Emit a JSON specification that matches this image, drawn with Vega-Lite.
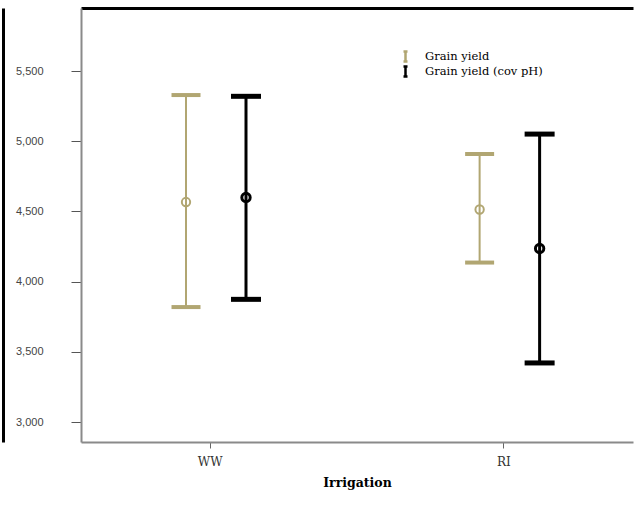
{
  "$schema": "https://vega.github.io/schema/vega-lite/v6.json",
  "autosize": "none",
  "width": 552,
  "height": 434,
  "padding": {"left": 81, "top": 8, "right": 3, "bottom": 69},
  "background": "white",
  "config": {"view": {"stroke": null}},
  "data": {
    "values": [
      {"Irrigation": "WW", "Series": "Grain yield", "mean": 4567, "low": 3819, "high": 5329},
      {"Irrigation": "WW", "Series": "Grain yield (cov pH)", "mean": 4600, "low": 3874, "high": 5320},
      {"Irrigation": "RI", "Series": "Grain yield", "mean": 4514, "low": 4136, "high": 4909},
      {"Irrigation": "RI", "Series": "Grain yield (cov pH)", "mean": 4236, "low": 3421, "high": 5051}
    ]
  },
  "resolve": {"axis": {"y": "independent", "x": "independent"}},
  "encoding": {
    "xOffset": {"field": "Series", "type": "nominal",
      "scale": {"paddingInner": 0, "paddingOuter": 0, "range": [75, 195]}}
  },
  "layer": [
    {
      "mark": {"type": "rule", "opacity": 1},
      "encoding": {
        "x": {"field": "Irrigation", "type": "nominal", "sort": ["WW", "RI"],
          "scale": {"paddingInner": 0.12, "paddingOuter": 0},
          "axis": {"orient": "bottom", "title": "Irrigation", "labelAngle": 0,
            "labelFont": "DejaVu Serif", "labelFontSize": 12, "labelColor": "#333333",
            "titleFont": "DejaVu Serif", "titleFontSize": 12.5, "titleFontWeight": "bold", "titleColor": "#000000",
            "domainColor": "#8a8a8a", "domainWidth": 2, "tickColor": "#666666", "tickSize": 6,
            "labelPadding": 8, "titlePadding": 9}},
        "y": {"field": "low", "type": "quantitative",
          "scale": {"domain": [2858, 5949], "nice": false, "zero": false},
          "axis": {"orient": "left", "title": null, "values": [3000, 3500, 4000, 4500, 5000, 5500], "format": ",d",
            "grid": false, "labelFont": "Liberation Sans", "labelFontSize": 11, "labelColor": "#444444",
            "domainColor": "#8a8a8a", "domainWidth": 2, "tickColor": "#555555", "tickSize": 10, "labelPadding": 28}},
        "y2": {"field": "high"},
        "strokeWidth": {"field": "Series", "type": "nominal", "scale": {"range": [2, 3]}, "legend": null},
        "color": {"field": "Series", "type": "nominal",
          "scale": {"domain": ["Grain yield", "Grain yield (cov pH)"], "range": ["#b1a672", "#000000"]},
          "legend": {"title": null, "orient": "none", "legendX": 318, "legendY": 41,
            "symbolType": "M-0.4,-1H0.4M0,-1V1M-0.4,1H0.4", "symbolSize": 100, "symbolStrokeWidth": 2.5,
            "labelFont": "DejaVu Serif", "labelFontSize": 11.5, "labelColor": "#000000",
            "rowPadding": 0, "clipHeight": 15, "labelOffset": 13}}
      }
    },
    {
      "mark": {"type": "tick", "thickness": 2, "size": 27, "opacity": 1},
      "encoding": {
        "x": {"field": "Irrigation", "type": "nominal", "sort": ["WW", "RI"], "axis": null},
        "y": {"field": "low", "type": "quantitative", "axis": null},
        "color": {"field": "Series", "type": "nominal", "legend": null},
        "stroke": {"field": "Series", "type": "nominal", "legend": null,
          "scale": {"domain": ["Grain yield", "Grain yield (cov pH)"], "range": ["#b1a672", "#000000"]}},
        "strokeWidth": {"field": "Series", "type": "nominal", "legend": null}
      }
    },
    {
      "mark": {"type": "tick", "thickness": 2, "size": 27, "opacity": 1},
      "encoding": {
        "x": {"field": "Irrigation", "type": "nominal", "sort": ["WW", "RI"], "axis": null},
        "y": {"field": "high", "type": "quantitative", "axis": null},
        "color": {"field": "Series", "type": "nominal", "legend": null},
        "stroke": {"field": "Series", "type": "nominal", "legend": null},
        "strokeWidth": {"field": "Series", "type": "nominal", "legend": null}
      }
    },
    {
      "mark": {"type": "point", "shape": "circle", "filled": false, "size": 70, "opacity": 1},
      "encoding": {
        "color": {"field": "Series", "type": "nominal", "legend": null},
        "strokeWidth": {"field": "Series", "type": "nominal", "legend": null},
        "y": {"field": "mean", "type": "quantitative",
          "axis": {"orient": "left", "offset": 78, "title": null, "labels": false, "ticks": false, "grid": false,
            "domainColor": "#000000", "domainWidth": 3}},
        "x": {"field": "Irrigation", "type": "nominal", "sort": ["WW", "RI"],
          "axis": {"orient": "top", "offset": 0, "title": null, "labels": false, "ticks": false,
            "domainColor": "#000000", "domainWidth": 3}}
      }
    }
  ]
}
